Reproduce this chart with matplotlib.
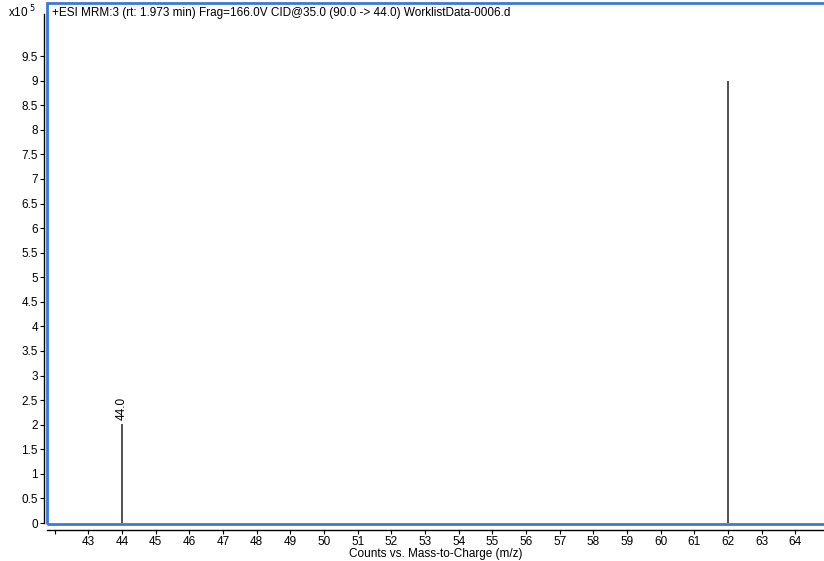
import matplotlib.pyplot as plt
from matplotlib.patches import Rectangle

# Product ion spectrum (MRM transition 90.0 -> 44.0)
mz = [44.0, 62.0]
counts = [2.02e5, 9.0e5]
labelled_mz = [44.0]

x_ticks = list(range(42, 65))
y_ticks = [i * 0.5 for i in range(20)]
scale = 1e5

title = "+ESI MRM:3 (rt: 1.973 min) Frag=166.0V CID@35.0 (90.0 -> 44.0) WorklistData-0006.d"

plt.rcParams['font.family'] = ['Liberation Sans', 'DejaVu Sans']
plt.rcParams['font.size'] = 8.5

fig = plt.figure(figsize=(8.24, 5.61), dpi=100)
ax = fig.add_axes([47 / 824, 1 - 524 / 561, 1 - 47 / 824, 521 / 561])

heights = [c / scale for c in counts]
ax.vlines(mz, 0, heights, color='#222222', lw=1.1)

for m, h in zip(mz, heights):
    if m in labelled_mz:
        ax.annotate(f"{m:.1f}", (m, h), xytext=(0, 3), textcoords='offset points',
                    rotation=90, ha='center', va='bottom')

ax.set_xlim(41.77, 64.85)
ax.set_ylim(-0.02, 10.58)
ax.set_xticks(x_ticks)
ax.set_xticklabels([''] + [str(t) for t in x_ticks[1:]])
ax.set_yticks(y_ticks)
ax.set_yticklabels([f"{t:g}" for t in y_ticks])

# black axis lines sit just outside the blue frame
for side in ('top', 'right'):
    ax.spines[side].set_visible(False)
ax.spines['left'].set_position(('outward', 2))
ax.spines['bottom'].set_position(('outward', 4))
for side in ('left', 'bottom'):
    ax.spines[side].set_color('black')
    ax.spines[side].set_linewidth(1.0)
ax.spines['left'].set_bounds(0, 10.35)
ax.tick_params(length=3, width=0.8, pad=1.5, colors='black')

# blue frame runs off the right edge of the figure
ax.add_patch(Rectangle((0, 0), 1.02, 1, transform=ax.transAxes, fill=False,
                       edgecolor='#3b78d8', lw=2.0, clip_on=False, zorder=5))

ax.text(0.006, 0.993, title, transform=ax.transAxes, ha='left', va='top')
fig.text(8 / 824, 1 - 12 / 561, r"x10$^{\ 5}$", ha='left', va='center')

ax.set_xlabel("Counts vs. Mass-to-Charge (m/z)", labelpad=0.5)

fig.savefig("out.png", dpi=100)
